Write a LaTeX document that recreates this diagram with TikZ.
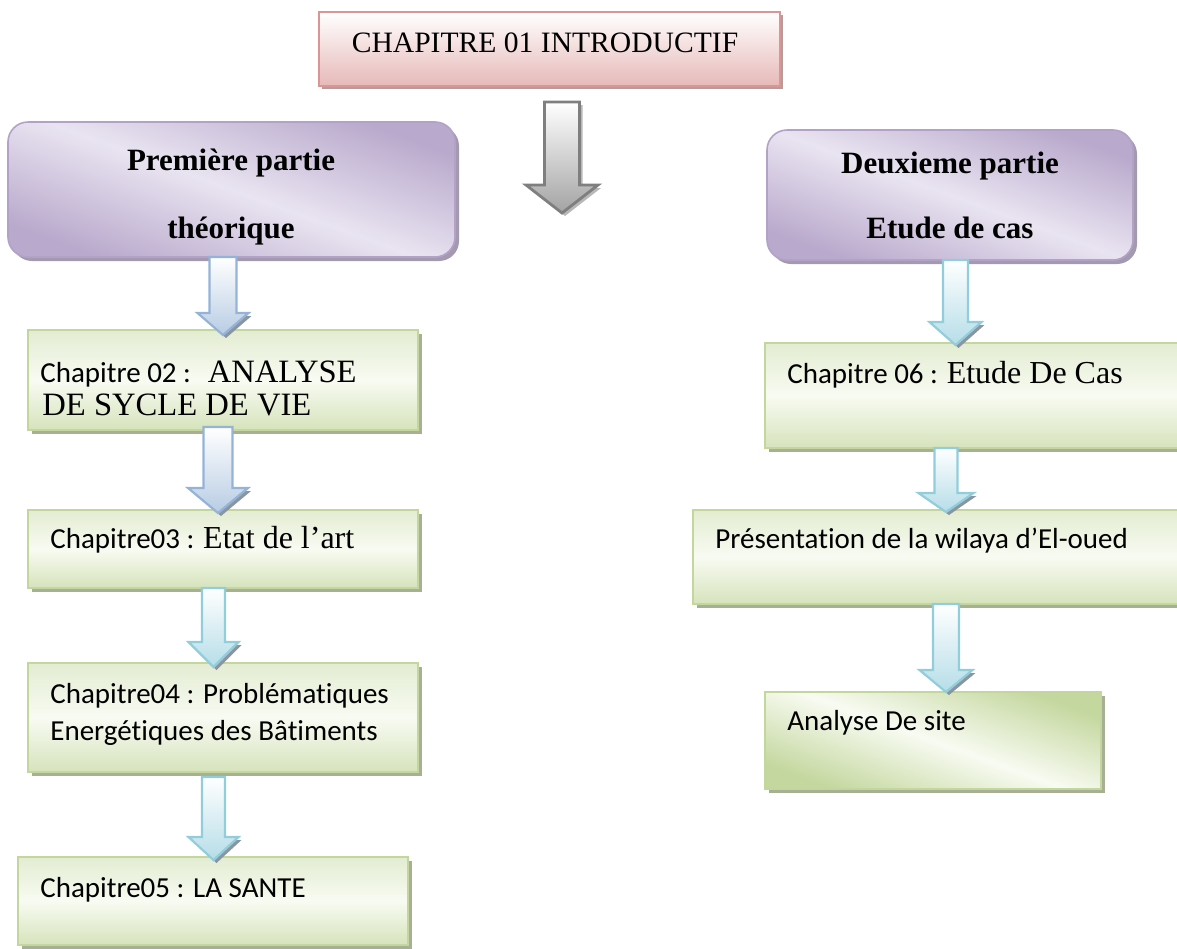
\documentclass[tikz,border=0pt]{standalone}
\usepackage{fontspec}
\setmainfont{Liberation Serif}
\newfontfamily\calfont[Ligatures={TeX,NoCommon}]{Carlito}
\usetikzlibrary{calc,shadows}

\definecolor{titleedge}{HTML}{D99694}
\definecolor{titlefill}{HTML}{E6B9B8}
\definecolor{titleshadow}{HTML}{B49C9C}
\definecolor{lilacedge}{HTML}{B3A2C7}
\definecolor{lilacdark}{HTML}{B9A9CC}
\definecolor{lilaclight}{HTML}{E9E4F1}
\definecolor{lilacshadow}{HTML}{A39AAF}
\definecolor{greenedge}{HTML}{C3D69B}
\definecolor{greenfill}{HTML}{D6E3BC}
\definecolor{greentop}{HTML}{E3ECD2}
\definecolor{greenlight}{HTML}{F8FBF2}
\definecolor{greendark}{HTML}{C4D79E}
\definecolor{greenshadow}{HTML}{A7AF95}
\definecolor{blueedge}{HTML}{95B3D7}
\definecolor{bluefill}{HTML}{B8CCE4}
\definecolor{cyanedge}{HTML}{92CDDC}
\definecolor{cyanfill}{HTML}{B6DDE8}
\definecolor{grayedge}{HTML}{7F7F7F}
\definecolor{grayfill}{HTML}{A3A3A3}
\definecolor{headshadow}{HTML}{8A95A0}

% block arrow: style, shaft top, tip, half shaft, half head, head length, shadow style
\newcommand\blockarrow[7]{%
  \coordinate (ba) at #2;
  \coordinate (bt) at #3;
  \fill[#7] ($(bt)+(3,3)$) -- ($(bt)+(#5+3,-#6+3)$) -- ($(bt)+(-#5+3,-#6+3)$) -- cycle;
  \draw[#1] ($(ba -| bt)+(-#4,0)$) -- ($(ba -| bt)+(#4,0)$) -- ($(bt)+(#4,-#6)$)
    -- ($(bt)+(#5,-#6)$) -- (bt) -- ($(bt)+(-#5,-#6)$) -- ($(bt)+(-#4,-#6)$) -- cycle;
}

\tikzset{
  size/.style 2 args={minimum width=#1*0.5pt, minimum height=#2*0.5pt},
  box/.style={inner sep=0pt, outer sep=0pt, anchor=north west},
  titlebox/.style={box, draw=titleedge, line width=1.1pt,
    top color=white, bottom color=titlefill,
    drop shadow={shadow xshift=1.6pt, shadow yshift=-1.6pt, fill=titleshadow, opacity=1}},
  lilacbox/.style={box, draw=lilacedge, line width=0.8pt, rounded corners=10pt,
    shading=axis, top color=lilacdark, bottom color=lilacdark, middle color=lilaclight,
    shading angle=-20,
    drop shadow={shadow xshift=2pt, shadow yshift=-2pt, fill=lilacshadow, opacity=1}},
  greenbox/.style={box, draw=greenedge, line width=1pt,
    top color=greentop, bottom color=greenfill, middle color=greenlight,
    drop shadow={shadow xshift=2pt, shadow yshift=-2pt, fill=greenshadow, opacity=1}},
  greendiag/.style={box, draw=greenedge, line width=1pt,
    shading=axis, top color=greendark, bottom color=greendark, middle color=greenlight,
    shading angle=-20,
    drop shadow={shadow xshift=2pt, shadow yshift=-2pt, fill=greenshadow, opacity=1}},
  titletext/.style={inner sep=0pt, anchor=base, font=\fontsize{14.8}{17}\selectfont},
  parttext/.style={inner sep=0pt, anchor=base, font=\fontsize{15.5}{18}\selectfont\bfseries},
  chaptext/.style={inner sep=0pt, anchor=base west, font=\calfont\fontsize{14.5}{17}\selectfont},
  serif/.style={font=\rmfamily\fontsize{16.3}{19}\selectfont},
  bluearrow/.style={draw=blueedge, line width=1.1pt, top color=white, bottom color=bluefill},
  cyanarrow/.style={draw=cyanedge, line width=1.1pt, top color=white, bottom color=cyanfill},
  grayarrow/.style={draw=grayedge, line width=1.4pt, top color=white, bottom color=grayfill},
  headshade/.style={fill=headshadow},
}
\newcommand\serifpart[1]{{\rmfamily\fontsize{16}{19}\selectfont #1}}

\begin{document}
\begin{tikzpicture}[x=0.5pt, y=-0.5pt]
\useasboundingbox (0,0) rectangle (1177,948);
\clip (0,0) rectangle (1177,948);

% boxes
\node[titlebox, size={461}{74}] (t) at (319,12) {};
\node[lilacbox, size={447}{135}] (p1) at (8,122) {};
\node[lilacbox, size={366}{130}] (p2) at (767,130) {};
\node[greenbox, size={390}{100}] (c2) at (28,330) {};
\node[greenbox, size={390}{78}] (c3) at (28,510) {};
\node[greenbox, size={390}{109}] (c4) at (28,663) {};
\node[greenbox, size={390}{88}] (c5) at (18,857) {};
\node[greenbox, size={440}{105}] (c6) at (765,343) {};
\node[greenbox, size={510}{94}] (c7) at (693,510) {};
\node[greendiag, size={336}{97}] (c8) at (765,692) {};

% texts
\node[titletext] (tl) at (545,52) {CHAPITRE 01 INTRODUCTIF};
\node[parttext] (p1a) at (231,170) {Première partie};
\node[parttext] (p1b) at (231,238) {théorique};
\node[parttext] (p2a) at (950,173) {Deuxieme partie};
\node[parttext] (p2b) at (950,238) {Etude de cas};
\node[chaptext] (c2a) at (40,382) {Chapitre 02 :\hspace{4pt} {\rmfamily\fontsize{16.3}{19}\selectfont ANALYSE}};
\node[chaptext, serif] (c2b) at (42,415) {DE SYCLE DE VIE};
\node[chaptext] (c3a) at (50,548) {Chapitre03 : \serifpart{Etat de l’art}};
\node[chaptext] (c4a) at (50,703) {Chapitre04 : Problématiques};
\node[chaptext] (c4b) at (50,740) {Energétiques des Bâtiments};
\node[chaptext] (c5a) at (40,897) {Chapitre05 : LA SANTE};
\node[chaptext] (c6a) at (787,383) {Chapitre 06 : \serifpart{Etude De Cas}};
\node[chaptext] (c7a) at (715,548) {Présentation de la wilaya d’El-oued};
\node[chaptext] (c8a) at (787,730) {Analyse De site};

% grey arrow under the title
\coordinate (gtop) at ($(562,0 |- t.south)+(0,16)$);
\coordinate (gtip) at (562,213);
\fill[black!28] ($(gtop)+(-17.5+3,3)$) -- ($(gtop)+(17.5+3,3)$) -- ($(gtip)+(17.5+3,-28+3)$)
  -- ($(gtip)+(36+3,-28+3)$) -- ($(gtip)+(3,3)$) -- ($(gtip)+(-36+3,-28+3)$)
  -- ($(gtip)+(-17.5+3,-28+3)$) -- cycle;
\draw[grayarrow] ($(gtop)+(-17.5,0)$) -- ($(gtop)+(17.5,0)$) -- ($(gtip)+(17.5,-28)$)
  -- ($(gtip)+(36,-28)$) -- (gtip) -- ($(gtip)+(-36,-28)$) -- ($(gtip)+(-17.5,-28)$) -- cycle;

% left column connectors
\blockarrow{bluearrow}{(223,0 |- p1.south)}{($(223,0 |- c2.north)+(0,5)$)}{13.5}{25.5}{22}{headshade}
\blockarrow{bluearrow}{($(218,0 |- c2.south)+(0,-3)$)}{($(218,0 |- c3.north)+(0,3)$)}{14.5}{30}{25}{headshade}
\blockarrow{cyanarrow}{(213.5,0 |- c3.south)}{($(213.5,0 |- c4.north)+(0,4)$)}{11.5}{25}{25}{headshade}
\blockarrow{cyanarrow}{($(213.5,0 |- c4.south)+(0,5)$)}{($(213.5,0 |- c5.north)+(0,3)$)}{11.5}{25}{23}{headshade}

% right column connectors
\blockarrow{cyanarrow}{(955.5,0 |- p2.south)}{($(955.5,0 |- c6.north)+(0,2)$)}{12.5}{26}{23}{headshade}
\blockarrow{cyanarrow}{(946,0 |- c6.south)}{($(946,0 |- c7.north)+(0,2)$)}{11.5}{27.5}{19}{headshade}
\blockarrow{cyanarrow}{(946,0 |- c7.south)}{(946,0 |- c8.north)}{13}{26.5}{22}{headshade}
\end{tikzpicture}
\end{document}
